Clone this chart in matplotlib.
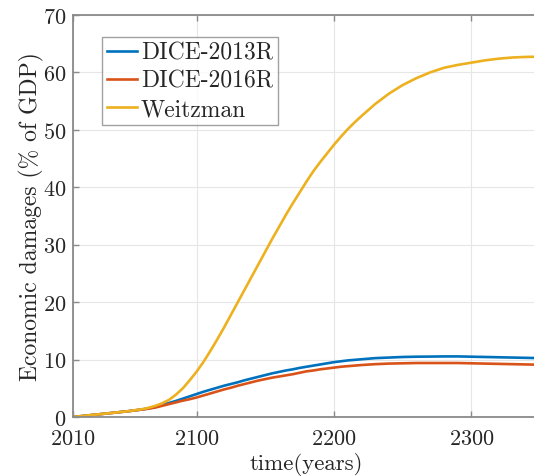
import matplotlib
matplotlib.use("Agg")
import matplotlib.pyplot as plt

years = [2010, 2020, 2030, 2040, 2050,
         2060, 2065, 2070, 2075, 2080, 2085, 2090, 2095, 2100,
         2105, 2110, 2115, 2120, 2125, 2130, 2135, 2140, 2145, 2150,
         2155, 2160, 2165, 2170, 2175, 2180, 2185, 2190, 2195, 2200,
         2205, 2210, 2215, 2220,
         2230, 2240, 2250, 2260, 2270, 2280, 2290, 2300, 2310, 2320,
         2330, 2340, 2350]
dice2013 = [0.0, 0.25, 0.5, 0.75, 1.0,
            1.3, 1.5, 1.75, 2.1, 2.45, 2.8, 3.2, 3.6, 4.0,
            4.4, 4.75, 5.1, 5.45, 5.75, 6.05, 6.4, 6.7, 7.0, 7.3,
            7.6, 7.85, 8.1, 8.3, 8.55, 8.75, 8.95, 9.15, 9.35, 9.55,
            9.7, 9.85, 9.95, 10.05,
            10.25, 10.35, 10.45, 10.5, 10.52, 10.55, 10.55, 10.5, 10.45, 10.4,
            10.35, 10.3, 10.25]
dice2016 = [0.0, 0.25, 0.5, 0.75, 1.0,
            1.3, 1.45, 1.65, 1.95, 2.25, 2.55, 2.85, 3.1, 3.4,
            3.75, 4.1, 4.45, 4.8, 5.1, 5.45, 5.75, 6.05, 6.35, 6.6,
            6.85, 7.05, 7.25, 7.45, 7.7, 7.95, 8.1, 8.3, 8.45, 8.6,
            8.75, 8.85, 8.95, 9.05,
            9.2, 9.3, 9.35, 9.4, 9.4, 9.4, 9.4, 9.35, 9.3, 9.25,
            9.2, 9.15, 9.1]
weitzman = [0.0, 0.25, 0.5, 0.75, 1.0,
            1.35, 1.6, 1.95, 2.4, 3.0, 3.9, 5.0, 6.4, 7.9,
            9.6, 11.5, 13.5, 15.6, 17.8, 20.0, 22.2, 24.4, 26.6, 28.8,
            31.0, 33.1, 35.2, 37.2, 39.1, 41.0, 42.8, 44.4, 45.9, 47.4,
            48.8, 50.1, 51.3, 52.4,
            54.5, 56.3, 57.8, 59.0, 60.0, 60.8, 61.3, 61.7, 62.1, 62.4,
            62.6, 62.7, 62.75]
series_names = ["DICE-2013R", "DICE-2016R", "Weitzman"]
xticks = [2010, 2100, 2200, 2300]
yticks = [0, 10, 20, 30, 40, 50, 60, 70]

plt.rcParams['font.family'] = ['cmr10', 'DejaVu Serif']
plt.rcParams['axes.formatter.use_mathtext'] = True
plt.rcParams['mathtext.fontset'] = 'cm'

fig = plt.figure(figsize=(5.34, 4.77), dpi=100)
ax = fig.add_axes([73/534, (477-418)/477, (540-73)/534, (418-16)/477])

colors = ['#0072BD', '#D95319', '#EDB120']
for vals, name, c in zip([dice2013, dice2016, weitzman], series_names, colors):
    ax.plot(years, vals, color=c, lw=1.9, label=name)

ax.set_xlim(2010, 2350)
ax.set_ylim(0, 70)
ax.set_xticks(xticks)
ax.set_yticks(yticks)
ax.grid(True, color='#e6e6e6', lw=0.8)
ax.set_axisbelow(True)

spine_c = '#8a8a8a'
for s in ['left', 'bottom', 'top', 'right']:
    ax.spines[s].set_color(spine_c)
    ax.spines[s].set_linewidth(1.3)
ax.tick_params(direction='in', top=True, right=True, length=4, width=1,
               color=spine_c, labelsize=16, labelcolor='#262626')
ax.tick_params(axis='x', pad=8)
ax.tick_params(axis='y', pad=5)

ax.set_xlabel('time(years)', fontsize=16.5, color='#262626', labelpad=3)
ax.set_ylabel('Economic damages (% of GDP)', fontsize=17, color='#262626', labelpad=-1)

leg = ax.legend(loc='upper left', bbox_to_anchor=(29/467, 0.945), fontsize=17,
                frameon=True, fancybox=False, edgecolor='#8a8a8a',
                handlelength=1.3, handletextpad=0.15, borderpad=0.2,
                labelspacing=0.25, borderaxespad=0)
leg.get_frame().set_linewidth(1.0)
for t in leg.get_texts():
    t.set_color('#262626')

fig.savefig('out.png', dpi=100)
